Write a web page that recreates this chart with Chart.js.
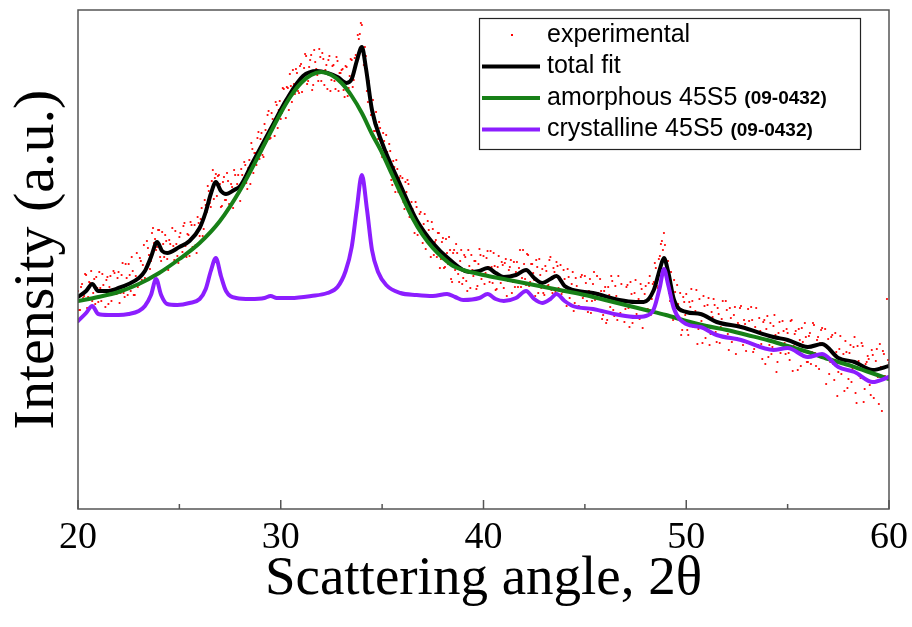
<!DOCTYPE html>
<html>
<head>
<meta charset="utf-8">
<script src="https://cdn.jsdelivr.net/npm/chart.js@4.4.0/dist/chart.umd.min.js"></script>
<style>
    body { margin: 0; background: #fff; }
    #wrap { width: 912px; height: 627px; }
</style>
</head>
<body>
<div id="wrap"><canvas id="xrd" width="912" height="627"></canvas></div>
<script>
// experimental points: two interleaved scans, 0.1 deg apart each
const expStart = 20;
const expStartB = 20.05;
const expStep = 0.1;
const expIntensity = [
    218,199,225,213,234,212,226,208,230,232,
    207,221,235,213,229,205,233,220,236,215,
    237,216,246,212,231,245,218,238,214,256,
    224,248,244,231,268,254,248,281,270,262,
    279,248,265,274,250,269,244,263,278,253,
    272,251,283,263,275,253,284,273,264,292,
    273,301,280,304,323,306,328,310,335,333,
    325,303,332,309,328,301,322,339,312,334,
    308,334,347,326,341,325,360,356,344,377,
    370,354,385,370,398,371,390,373,404,399,
    390,421,404,422,399,423,439,415,436,416,
    445,427,455,425,442,454,424,447,434,460,
    428,450,439,420,453,429,444,420,448,436,
    439,419,443,413,433,449,429,454,474,475,
    484,444,453,407,418,402,378,397,370,381,
    352,368,374,342,358,324,342,349,317,333,
    331,300,317,325,294,300,276,302,280,297,
    266,295,269,279,252,280,267,252,276,250,
    271,242,256,272,230,256,239,256,227,259,
    231,252,218,243,254,233,248,223,260,230,
    253,236,258,227,242,256,219,242,231,247,
    221,250,228,242,216,247,237,222,259,231,
    245,224,254,227,245,229,249,216,234,240,
    214,238,224,252,216,237,247,221,244,217,
    230,203,232,216,237,206,223,203,232,211,
    233,208,218,196,225,209,233,199,218,194,
    222,189,214,233,199,223,189,209,225,194,
    200,224,182,215,193,229,208,190,220,199,
    223,200,233,210,227,241,221,253,268,276,
    237,248,208,222,229,192,205,216,179,207,
    215,174,202,208,186,219,180,196,166,203,
    184,211,175,192,204,167,195,182,208,172,
    199,159,191,177,202,171,184,203,164,185,
    166,188,202,157,182,172,191,165,187,145,
    193,164,155,183,174,147,187,165,178,155,
    176,149,189,163,178,139,169,181,152,172,
    147,176,157,184,143,172,166,181,151,125,
    170,147,174,129,157,137,173,145,118,157,
    130,164,140,172,106,148,131,163,120,147,
    150,114,154,127,160,105,142,158,133,210,
    146
];
const expIntensityB = [
    199,222,211,235,201,227,238,216,205,221,
    237,208,224,202,232,222,208,238,217,231,
    206,234,216,245,214,234,252,214,233,222,
    251,229,264,242,261,240,276,266,259,279,
    252,277,252,268,239,265,281,249,265,246,
    276,257,286,252,274,287,262,284,256,286,
    290,273,309,297,318,302,339,331,313,334,
    302,327,309,336,305,325,301,334,325,316,
    340,323,344,320,349,366,336,356,371,350,
    376,352,379,394,370,396,383,407,381,408,
    396,420,391,421,435,407,425,440,418,443,
    417,441,453,428,449,419,459,440,428,452,
    456,424,444,449,418,443,428,452,418,436,
    440,412,442,421,450,422,451,452,470,486,
    454,462,418,428,394,409,378,384,387,356,
    376,349,357,365,329,348,317,340,331,315,
    307,327,329,292,307,290,307,274,295,275,
    285,260,288,266,287,254,269,276,241,267,
    241,270,245,259,227,259,265,235,248,225,
    254,228,259,221,239,248,220,245,254,235,
    225,251,242,258,226,243,220,253,226,244,
    246,213,239,249,227,222,247,241,222,259,
    230,255,223,245,236,213,242,250,221,216,
    243,223,249,219,241,217,243,232,215,239,
    208,240,211,225,198,231,218,201,234,213,
    226,197,230,208,237,200,216,230,190,218,
    186,222,202,228,193,213,233,196,209,187,
    222,201,227,186,216,195,210,225,181,215,
    198,226,194,225,246,223,250,265,259,264,
    245,216,237,189,217,224,192,174,212,194,
    179,207,220,182,198,165,210,188,213,171,
    204,164,197,210,177,201,166,190,171,208,
    175,201,167,194,155,186,201,169,189,158,
    200,173,189,160,201,164,178,150,189,180,
    152,186,162,194,137,176,156,188,166,180,
    156,188,138,175,160,180,143,167,186,147,
    173,145,186,156,169,140,179,152,180,152,
    135,172,145,176,113,160,135,155,168,121,
    156,127,162,116,163,133,166,107,145,153,
    124,159,111,148,132,165,98,155,130,149
];

const totalAngle = [20,20.4,20.7,21.0,21.5,22,22.5,23,23.3,23.6,23.9,24.15,24.4,25.0,25.5,26,26.3,26.55,26.8,27.05,27.3,27.7,28.0,28.6,29.5,30.3,31.1,31.8,32.3,32.8,33.25,33.5,33.75,34.0,34.2,34.5,35.0,35.9,36.7,37.5,38.3,39.3,39.8,40.2,40.6,41.0,41.6,42.1,42.5,42.9,43.3,43.6,44.0,44.4,45.4,46.7,47.5,47.9,48.4,48.7,48.9,49.1,49.4,50.0,50.7,51.5,52.7,54.3,55.0,56.0,56.7,57.5,58.3,59.2,60];
const totalIntensity = [212,218,225,218,218,221,225,231,238,252,267,258,256,262,268,281,297,315,327,318,315,319,323,346,380,410,433,438,436,432,426,430,448,462,441,399,366,324,289,266,250,237,238,241,236,232,234,239,231,226,230,233,223,219,216,209,207,207,219,240,251,238,209,197,195,187,182,172,169,162,165,151,147,139,143];

const amorphousAngle = [20,21,22,23,24,25,26,27,28,29,30,30.5,31,31.5,32,32.5,33,33.5,34,34.5,35,35.5,36,36.5,37,37.5,38,38.5,39,40,41,42,43,44,45,46,47,48,49,50,51,52,53,54,55,56,57,58,59,60];
const amorphousIntensity = [208,212,217,225,236,250,266,288,319,357,396,413,426,434,437,434,426,413,396,375,356,334,312,291,274,261,251,243,239,234,230,226,222,218,214,209,204,199,194,188,183,179,174,169,163,157,150,144,137,130];

const crystAngle = [20,20.4,20.7,21.0,21.5,22,22.5,23,23.3,23.6,23.85,24.1,24.4,24.9,25.5,26,26.3,26.55,26.8,27.05,27.3,27.8,28.5,29.2,29.5,29.8,30.5,31.5,32.3,32.8,33.2,33.5,33.75,34.0,34.25,34.5,34.8,35.2,35.9,36.7,37.5,38.2,38.6,39.0,39.8,40.2,40.6,41.0,41.6,42.1,42.5,42.9,43.3,43.6,44.0,44.4,45.4,46.7,47.5,48.0,48.4,48.7,48.9,49.1,49.4,50.0,50.7,51.5,52.7,54.3,55.0,56.0,56.7,57.5,58.3,59.2,60];
const crystIntensity = [188,196,203,195,194,194,195,198,203,214,230,214,205,204,206,210,220,238,251,233,218,211,210,211,213,211,211,213,216,222,238,262,300,334,300,259,237,224,216,214,213,215,212,209,211,215,210,208,211,218,210,206,210,215,208,203,200,194,192,193,200,222,240,225,200,185,182,174,169,159,161,152,155,142,137,127,132];

const legendLabels = ['experimental', 'total fit', 'amorphous 45S5', 'crystalline 45S5'];
const legendRefs = ['', '', '(09-0432)', '(09-0432)'];
const legendColors = ['#ff0000', '#000000', '#178017', '#8c1eff'];

function pairs(xs, ys) {
    return xs.map((x, i) => ({ x: x, y: ys[i] }));
}

const expPoints = expIntensity.map((v, i) => ({ x: expStart + i * expStep, y: v }))
    .concat(expIntensityB.map((v, i) => ({ x: expStartB + i * expStep, y: v })));

// box around the plot + inward ticks on the bottom axis
const frameTicks = {
    id: 'frameTicks',
    afterDraw(chart) {
        const { ctx, chartArea: a, scales } = chart;
        ctx.save();
        ctx.strokeStyle = '#555';
        ctx.lineWidth = 1.5;
        ctx.strokeRect(a.left, a.top, a.right - a.left, a.bottom - a.top);
        scales.x.ticks.forEach(t => {
            const px = scales.x.getPixelForValue(t.value);
            const len = t.value % 10 === 0 ? 9 : 5;
            ctx.beginPath();
            ctx.moveTo(px, a.bottom);
            ctx.lineTo(px, a.bottom - len);
            ctx.stroke();
        });
        ctx.restore();
    }
};

// legend box drawn by hand because of the mixed bold text
const boxLegend = {
    id: 'boxLegend',
    afterDraw(chart) {
        const ctx = chart.ctx;
        ctx.save();
        ctx.strokeStyle = '#222';
        ctx.lineWidth = 1.2;
        ctx.fillStyle = '#fff';
        ctx.fillRect(479, 18, 381, 131);
        ctx.strokeRect(479.5, 18.5, 381, 131);
        legendLabels.forEach((label, i) => {
            const y = 35 + i * 31.5;
            if (i === 0) {
                ctx.fillStyle = legendColors[i];
                ctx.fillRect(511, y - 1, 2, 2);
            } else {
                ctx.strokeStyle = legendColors[i];
                ctx.lineWidth = 4;
                ctx.beginPath();
                ctx.moveTo(482, y);
                ctx.lineTo(540, y);
                ctx.stroke();
            }
            ctx.fillStyle = '#000';
            ctx.textBaseline = 'middle';
            ctx.font = '25px "Liberation Sans"';
            ctx.fillText(label, 547, y);
            if (legendRefs[i]) {
                const w = ctx.measureText(label + ' ').width;
                ctx.font = 'bold 19px "Liberation Sans"';
                ctx.fillText(legendRefs[i], 547 + w, y + 1);
            }
        });
        ctx.restore();
    }
};

const lineStyle = {
    pointRadius: 0,
    borderWidth: 4,
    fill: false,
    cubicInterpolationMode: 'monotone',
    borderJoinStyle: 'round',
    borderCapStyle: 'round'
};

new Chart(document.getElementById('xrd').getContext('2d'), {
    type: 'line',
    data: {
        datasets: [
            { label: 'crystalline 45S5', data: pairs(crystAngle, crystIntensity), borderColor: legendColors[3], order: 0, ...lineStyle },
            { label: 'amorphous 45S5', data: pairs(amorphousAngle, amorphousIntensity), borderColor: legendColors[2], order: 1, ...lineStyle },
            { label: 'total fit', data: pairs(totalAngle, totalIntensity), borderColor: legendColors[1], order: 2, ...lineStyle },
            {
                type: 'scatter',
                label: 'experimental',
                data: expPoints,
                showLine: false,
                pointRadius: 1.1,
                pointBackgroundColor: legendColors[0],
                pointBorderWidth: 0,
                order: 3
            }
        ]
    },
    options: {
        responsive: false,
        animation: false,
        layout: { padding: { top: 10, right: 23, left: 0, bottom: 0 } },
        plugins: {
            legend: { display: false },
            tooltip: { enabled: false }
        },
        scales: {
            x: {
                type: 'linear',
                min: 20,
                max: 60,
                grid: { display: false },
                border: { display: false },
                ticks: {
                    stepSize: 5,
                    autoSkip: false,
                    maxRotation: 0,
                    padding: -2,
                    color: '#000',
                    font: { family: 'Liberation Serif', size: 38 },
                    callback: v => (v % 10 === 0 ? v : '')
                },
                title: {
                    display: true,
                    text: 'Scattering angle, 2θ',
                    color: '#000',
                    font: { family: 'Liberation Serif', size: 55 },
                    padding: { top: 0, bottom: 14 }
                },
                afterFit: s => {
                    s.height = 118;
                    s.paddingRight = 0;
                }
            },
            y: {
                min: 0,
                max: 499,
                grid: { display: false },
                border: { display: false },
                ticks: { display: false },
                title: {
                    display: true,
                    text: 'Intensity (a.u.)',
                    color: '#000',
                    font: { family: 'Liberation Serif', size: 58 },
                    padding: { top: 3, bottom: 0 }
                },
                afterFit: s => { s.width = 78; }
            }
        }
    },
    plugins: [frameTicks, boxLegend]
});
</script>
</body>
</html>
